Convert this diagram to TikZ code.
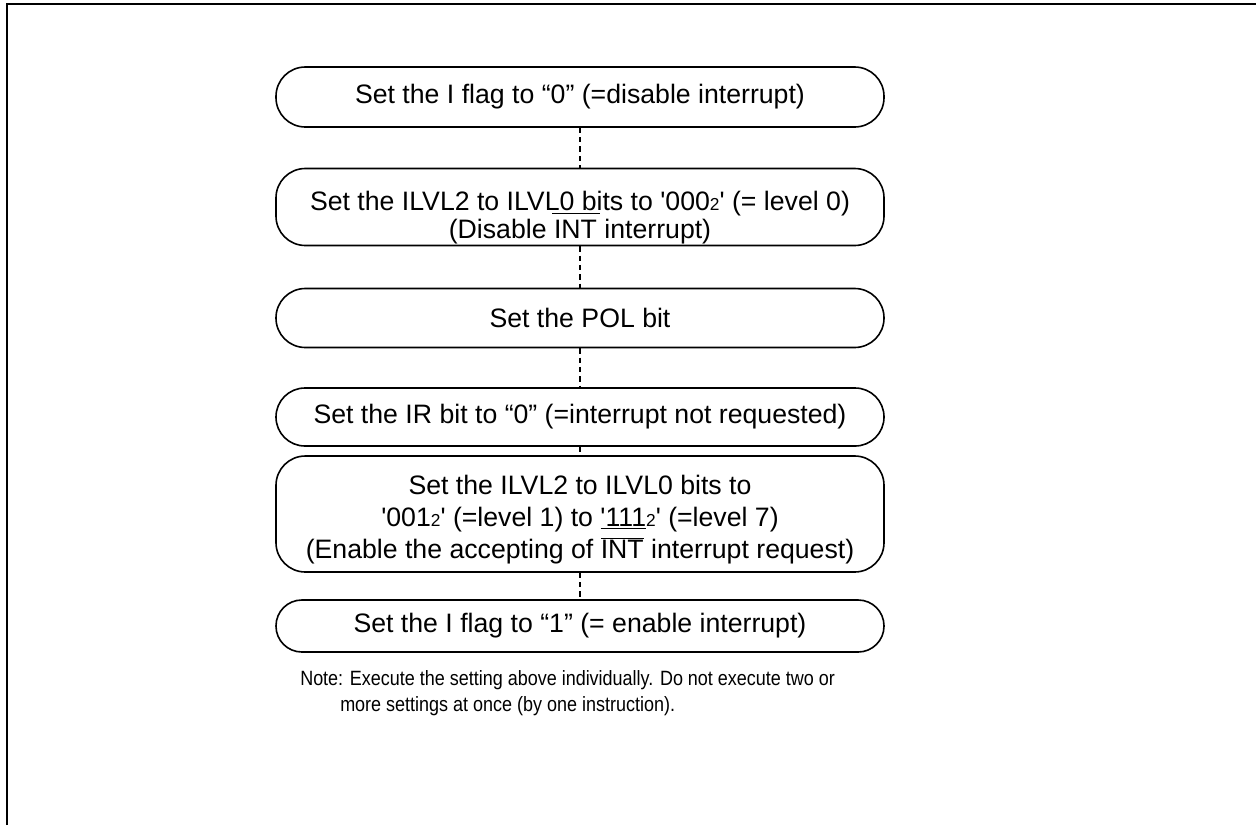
\documentclass[tikz,border=0pt]{standalone}
\usepackage{fontspec}
\setmainfont{Liberation Sans}
\newfontfamily\notefont[FakeStretch=0.87]{Liberation Sans}
\newcommand{\subtwo}{{\fontsize{13}{13}\selectfont 2}}
\newcommand{\q}{\textquotesingle}
\newcommand{\intbar}{$\overline{\hbox{INT}}$}
\newcommand{\intbarhigh}{\makebox[0pt][l]{\hspace*{-1.5pt}\raisebox{18pt}[0pt][0pt]{\rule{36pt}{0.7pt}}}INT}
\begin{document}
\begin{tikzpicture}[x=0.75pt, y=-0.75pt,
  stepbox/.style={draw, line width=1.2pt, rounded corners=22pt, minimum width=456pt,
    align=center, inner sep=0pt, font=\fontsize{20}{21}\selectfont},
  link/.style={line width=1.2pt, dash pattern=on 4pt off 3pt}]
  \useasboundingbox (0,0) rectangle (1256,825);
  % frame
  \draw[line width=1.5pt] (7,825) -- (7,4) -- (1256,4);
  % steps
  \node[stepbox, minimum height=45pt] (s1) at (580,97) {Set the I flag to “0” (=disable interrupt)};
  \node[stepbox, minimum height=57.75pt] (s2) at (580,207)
    {\rule{0pt}{30pt}Set the ILVL2 to ILVL0 bits to \q000\subtwo\q{} (= level 0)\\(Disable \intbarhigh{} interrupt)};
  \node[stepbox, minimum height=44.25pt] (s3) at (580,318) {Set the POL bit};
  \node[stepbox, minimum height=43.5pt, rounded corners=21.7pt] (s4) at (580,417) {Set the IR bit to “0” (=interrupt not requested)};
  \node[stepbox, minimum height=87pt, font=\fontsize{20}{24}\selectfont] (s5) at (580,514)
    {\rule{0pt}{23pt}Set the ILVL2 to ILVL0 bits to\\\q001\subtwo\q{} (=level 1) to \underline{\q111}\subtwo\q{} (=level 7)\\(Enable the accepting of \intbar{} interrupt request)};
  \node[stepbox, minimum height=39pt, rounded corners=19.4pt] (s6) at (580,626) {Set the I flag to “1” (= enable interrupt)};
  \draw[link] (s1) -- (s2);
  \draw[link] (s2) -- (s3);
  \draw[link] (s3) -- (s4);
  \draw[link] (s4) -- (s5);
  \draw[link] (s5) -- (s6);
  % note
  \node[anchor=north west, align=left, inner sep=0pt, font=\notefont\fontsize{15.5}{19.5}\selectfont] (note) at (300,670)
    {Note: Execute the setting above individually. Do not execute two or\\\hspace*{30pt}more settings at once (by one instruction).};
\end{tikzpicture}
\end{document}
